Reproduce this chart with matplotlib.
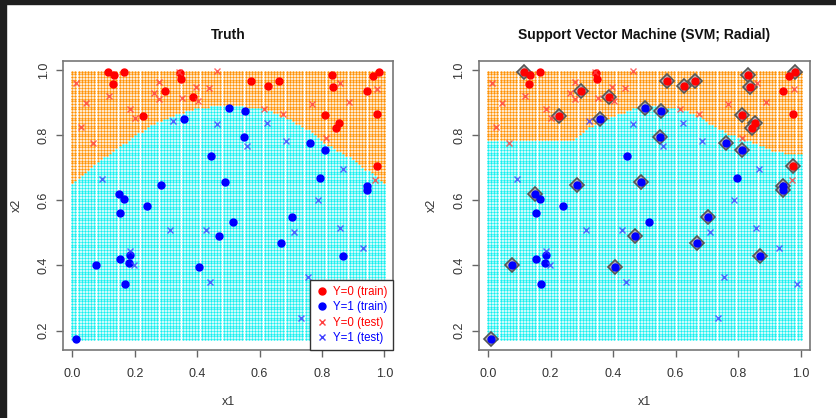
import numpy as np
import matplotlib
matplotlib.use("Agg")
import matplotlib.pyplot as plt
from matplotlib.lines import Line2D
from matplotlib.patches import Rectangle

plt.rcParams['font.family'] = ['Liberation Sans', 'DejaVu Sans']

# training points, class Y=0
train0_x1 = [0.115, 0.134, 0.130, 0.166, 0.226, 0.297, 0.346, 0.348, 0.388, 0.574, 0.627,
             0.662, 0.833, 0.837, 0.811, 0.854, 0.845, 0.944, 0.963, 0.982, 0.975, 0.976]
train0_x2 = [0.995, 0.985, 0.956, 0.994, 0.859, 0.937, 0.991, 0.971, 0.917, 0.965, 0.950,
             0.966, 0.986, 0.947, 0.863, 0.837, 0.821, 0.936, 0.982, 0.994, 0.866, 0.706]
train0_sv = [1, 0, 0, 0, 1, 1, 0, 0, 1, 1, 1, 1, 1, 1, 1, 1, 1, 0, 0, 1, 0, 1]

# training points, class Y=1
train1_x1 = [0.502, 0.554, 0.357, 0.550, 0.445, 0.761, 0.811, 0.489, 0.285, 0.795, 0.945, 0.945,
             0.150, 0.165, 0.239, 0.152, 0.515, 0.703, 0.469, 0.668, 0.152, 0.185, 0.182, 0.076,
             0.406, 0.169, 0.869, 0.011]
train1_x2 = [0.884, 0.873, 0.850, 0.795, 0.735, 0.776, 0.754, 0.656, 0.646, 0.668, 0.644, 0.632,
             0.619, 0.605, 0.582, 0.560, 0.532, 0.548, 0.490, 0.469, 0.421, 0.432, 0.407, 0.401,
             0.395, 0.342, 0.429, 0.174]
train1_sv = [1, 1, 1, 1, 0, 1, 1, 1, 1, 0, 1, 1, 1, 0, 0, 0, 0, 1, 1, 1, 0, 0, 0, 1, 1, 0, 1, 1]

# test points
test0_x1 = [0.012, 0.027, 0.044, 0.067, 0.117, 0.185, 0.201, 0.262, 0.278, 0.278, 0.351, 0.343,
            0.396, 0.403, 0.439, 0.464, 0.615, 0.674, 0.769, 0.812, 0.859, 0.888, 0.977, 0.971]
test0_x2 = [0.959, 0.824, 0.900, 0.777, 0.921, 0.880, 0.852, 0.928, 0.963, 0.912, 0.915, 0.995,
            0.949, 0.905, 0.946, 0.996, 0.879, 0.864, 0.897, 0.791, 0.961, 0.903, 0.942, 0.662]
test1_x1 = [0.324, 0.465, 0.560, 0.624, 0.684, 0.094, 0.868, 0.786, 0.312, 0.428, 0.710, 0.857,
            0.931, 0.185, 0.199, 0.440, 0.756, 0.734, 0.989]
test1_x2 = [0.844, 0.835, 0.768, 0.836, 0.781, 0.664, 0.697, 0.601, 0.510, 0.510, 0.503, 0.516,
            0.455, 0.445, 0.401, 0.349, 0.364, 0.239, 0.344]

# class boundaries (x2 above boundary -> Y=0)
truth_bx = [0.0, 0.046, 0.121, 0.196, 0.270, 0.324, 0.409, 0.516, 0.623, 0.698, 0.762,
            0.826, 0.901, 0.943, 1.0]
truth_by = [0.650, 0.693, 0.744, 0.795, 0.840, 0.862, 0.885, 0.893, 0.877, 0.847, 0.811,
            0.765, 0.724, 0.693, 0.652]
svm_bx = [0.0, 0.194, 0.200, 0.274, 0.295, 0.349, 0.413, 0.457, 0.500, 0.548, 0.622, 0.666,
          0.708, 0.762, 0.805, 0.858, 0.910, 0.955, 1.0]
svm_by = [0.780, 0.780, 0.787, 0.787, 0.806, 0.836, 0.862, 0.877, 0.889, 0.889, 0.877, 0.862,
          0.836, 0.806, 0.790, 0.775, 0.754, 0.745, 0.739]

gx, gy = np.meshgrid(np.linspace(0.0, 1.0, 100), np.linspace(0.174, 0.995, 100))
gx, gy = gx.ravel(), gy.ravel()

W, H = 837, 418
fig = plt.figure(figsize=(W / 100, H / 100), dpi=100)
fig.patches.append(Rectangle((0, 1 - 4 / H), 1, 4 / H, transform=fig.transFigure,
                             color='#1e1e1e', zorder=10))
fig.patches.append(Rectangle((0, 0), 6 / W, 1, transform=fig.transFigure,
                             color='#1e1e1e', zorder=10))

ax1 = fig.add_axes([63.3 / W, 1 - 350 / H, 330 / W, 289 / H])
ax2 = fig.add_axes([479 / W, 1 - 350 / H, 330.7 / W, 289 / H])


def draw_panel(ax, bx, by, title, show_sv):
    above = gy > np.interp(gx, bx, by)
    ax.scatter(gx[above], gy[above], s=3.0, c='#ff9000', linewidths=0, zorder=1)
    ax.scatter(gx[~above], gy[~above], s=3.0, c='#10f0f0', linewidths=0, zorder=1)

    if show_sv:
        sv0 = np.array(train0_sv, bool)
        sv1 = np.array(train1_sv, bool)
        svx = np.r_[np.array(train0_x1)[sv0], np.array(train1_x1)[sv1]]
        svy = np.r_[np.array(train0_x2)[sv0], np.array(train1_x2)[sv1]]
        ax.plot(svx, svy, 'D', ms=7, mfc='#b8b8b8', mec='#555555', mew=1.2, zorder=2)

    ax.plot(train0_x1, train0_x2, 'o', color='red', ms=5, zorder=3)
    ax.plot(train1_x1, train1_x2, 'o', color='blue', ms=5, zorder=3)
    ax.plot(test0_x1, test0_x2, 'x', color='#ff4040', ms=4.5, mew=1, alpha=0.8, zorder=4)
    ax.plot(test1_x1, test1_x2, 'x', color='#4040ff', ms=4.5, mew=1, alpha=0.8, zorder=4)

    ax.set_xlim(-0.0288, 1.0288)
    ax.set_ylim(0.1406, 1.0276)
    ax.set_xticks([0.0, 0.2, 0.4, 0.6, 0.8, 1.0])
    ax.set_yticks([0.2, 0.4, 0.6, 0.8, 1.0])
    ax.set_xticklabels(['0.0', '0.2', '0.4', '0.6', '0.8', '1.0'])
    ax.set_yticklabels(['0.2', '0.4', '0.6', '0.8', '1.0'], rotation=90, va='center')
    ax.tick_params(direction='out', length=4.8, width=1, color='#666666',
                   labelcolor='#333333', labelsize=9)
    ax.tick_params(axis='x', pad=8)
    ax.tick_params(axis='y', pad=5)
    for sp in ax.spines.values():
        sp.set_color('#777777')
        sp.set_linewidth(1.2)
    ax.set_xlabel('x1', fontsize=9, color='#333333', labelpad=12)
    ax.set_ylabel('x2', fontsize=9, color='#333333', labelpad=11)
    ax.set_title(title, fontsize=10, fontweight='bold', color='#111111', pad=16)


draw_panel(ax1, truth_bx, truth_by, 'Truth', False)
draw_panel(ax2, svm_bx, svm_by, 'Support Vector Machine (SVM; Radial)', True)

handles = [
    Line2D([], [], ls='', marker='o', color='red', ms=5),
    Line2D([], [], ls='', marker='o', color='blue', ms=5),
    Line2D([], [], ls='', marker='x', color='#ff4040', ms=4.5),
    Line2D([], [], ls='', marker='x', color='#4040ff', ms=4.5),
]
labels = ['Y=0 (train)', 'Y=1 (train)', 'Y=0 (test)', 'Y=1 (test)']
leg = ax1.legend(handles, labels, loc='lower right', borderaxespad=0, fontsize=8.3,
                 fancybox=False, framealpha=1, edgecolor='#333333', handlelength=1,
                 handletextpad=0.5, labelspacing=0.3, borderpad=0.5)
leg.get_frame().set_linewidth(1)
leg.set_zorder(6)
for txt, col in zip(leg.get_texts(), ['red', 'blue', 'red', 'blue']):
    txt.set_color(col)

fig.savefig('out.png', dpi=100)
